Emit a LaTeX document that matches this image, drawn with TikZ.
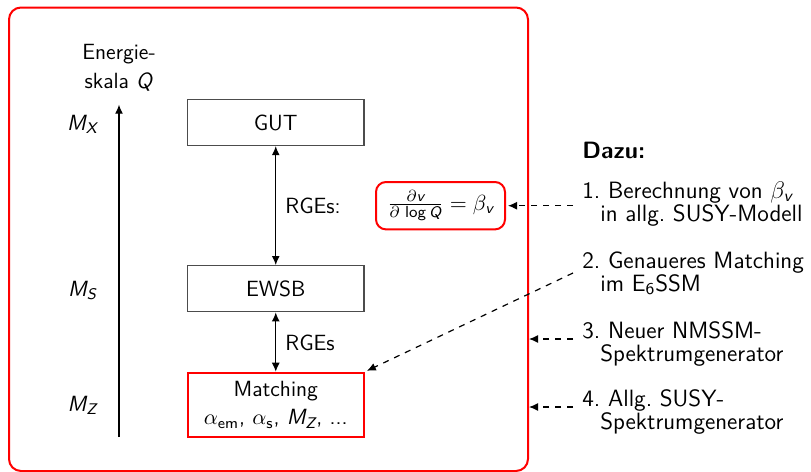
\documentclass[tikz,border=0pt]{standalone}
\usepackage{amsmath}
\usetikzlibrary{arrows.meta}
\newcommand\mi[1]{\textsl{#1}}
\frenchspacing
\begin{document}
\begin{tikzpicture}[x=0.5pt,y=-0.5pt,
  font=\sffamily\fontsize{11}{14.2}\selectfont,
  box/.style={draw=black!70, line width=0.6pt, minimum width=88.25pt, minimum height=23.1pt, inner sep=0pt},
  tip/.style={-{Latex[length=4.5pt,width=4pt]}},
  dtip/.style={{Latex[length=4.5pt,width=4pt]}-{Latex[length=4.5pt,width=4pt]}, line width=0.6pt},
  dashedarrow/.style={tip, dashed, line width=0.6pt},
  lbl/.style={inner sep=0pt, anchor=base west},
  mlbl/.style={inner sep=0pt, anchor=base},
  itemtxt/.style={inner sep=0pt, anchor=north west, align=left, font=\sffamily\fontsize{11.8}{11.5}\selectfont}]
\useasboundingbox (0,0) rectangle (811,472);
\node[draw=red, line width=1pt, rounded corners=6pt, minimum width=259.5pt, minimum height=231.75pt, inner sep=0pt] (outer) at (268.5,239.25) {};
% energy axis
\node[inner sep=0pt, anchor=north, align=center] (en) at (119,44) {Energie-\\skala \mi{Q}};
\coordinate (qb) at (119,437);
\coordinate (qt) at (119,104.7);
\draw[tip, line width=0.6pt] (qb) -- (qt);
\node[mlbl] (mx) at (82.5,130) {$\mi{M}_{\mi{X}}$};
\node[mlbl] (ms) at (82.5,296) {$\mi{M}_{\mi{S}}$};
\node[mlbl] (mz) at (82.5,411.7) {$\mi{M}_{\mi{Z}}$};
% boxes
\node[box] (gut) at (275.75,122.5) {GUT};
\node[box] (ewsb) at (275.75,288.7) {EWSB};
\node[box, draw=red, line width=1pt, minimum height=32pt, align=center] (match) at (275.75,404.7) {Matching\\ $\alpha_{\textsf{em}}$, $\alpha_{\textsf{s}}$, $\mi{M}_{\mi{Z}}$, ...};
\draw[dtip] (gut) -- (ewsb);
\draw[dtip] (ewsb) -- (match);
\node[lbl] (r1) at (285,213.3) {RGEs:};
\node[lbl] (r2) at (285,350) {RGEs};
\node[draw=red, line width=1pt, rounded corners=5pt, minimum width=64.5pt, minimum height=23.7pt, inner sep=2pt] (f) at (440.5,205.7) {$\frac{\partial \mi{v}}{\partial\,\mathop{\mathsf{log}}\mi{Q}} = \beta_{\mi{v}}$};
% right side
\node[anchor=base west, inner sep=0pt, font=\sffamily\bfseries\fontsize{11.8}{14.5}\selectfont] (dazu) at (582,158) {Dazu:};
\node[itemtxt] (i1) at (582,181) {1. Berechnung von $\beta_{\mi{v}}$\\\hphantom{1.}in allg. SUSY-Modell};
\node[itemtxt] (i2) at (582,251) {2. Genaueres Matching\\\hphantom{2.}im E\textsubscript{6}SSM};
\node[itemtxt] (i3) at (582,321) {3. Neuer NMSSM-\\\hphantom{3.}Spektrumgenerator};
\node[itemtxt] (i4) at (582,389.5) {4. Allg. SUSY-\\\hphantom{4.}Spektrumgenerator};
\coordinate (s1) at (573,205.7);
\coordinate (s2) at (573,273);
\coordinate (s3) at (573,339);
\coordinate (s4) at (573,407);
\draw[dashedarrow, shorten >=1pt] (s1) -- (s1 -| f.east);
\draw[dashedarrow, shorten >=1pt] (s2) -- (match.north east);
\draw[dashedarrow] (s3) -- (s3 -| outer.east);
\draw[dashedarrow] (s4) -- (s4 -| outer.east);
\end{tikzpicture}
\end{document}
